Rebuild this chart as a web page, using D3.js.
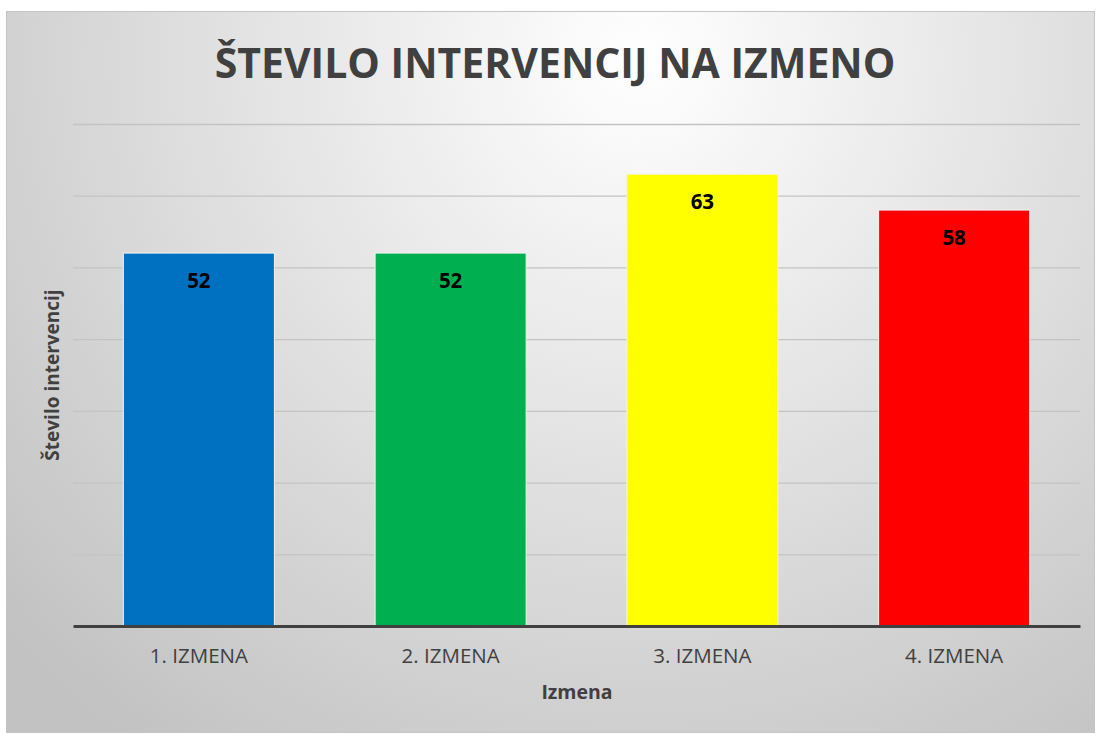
<!DOCTYPE html>
<html>
<head>
<meta charset="utf-8">
<script src="https://cdn.jsdelivr.net/npm/d3@7"></script>
<style>
  body { margin: 0; background: #fff; }
  text { font-family: 'Open Sans', 'Noto Sans', sans-serif; }
</style>
</head>
<body>
<div id="chart"></div>
<script>
// data
const categories = ['1. IZMENA', '2. IZMENA', '3. IZMENA', '4. IZMENA']
const values = [52, 52, 63, 58]
const barColors = ['#0070C0', '#00B050', '#FFFF00', '#FF0000']
const yTicks = [0, 10, 20, 30, 40, 50, 60, 70]

const W = 1098
const H = 735
const margin = { top: 124, left: 73, right: 18, bottom: 109 }
const width = W - margin.left - margin.right
const height = H - margin.top - margin.bottom

const root = d3
  .select('#chart')
  .append('svg')
  .attr('width', W)
  .attr('height', H)

const defs = root.append('defs')
const grad = defs
  .append('radialGradient')
  .attr('id', 'bg')
  .attr('gradientUnits', 'userSpaceOnUse')
  .attr('cx', 640)
  .attr('cy', 60)
  .attr('r', 850)
grad.append('stop').attr('offset', '0%').attr('stop-color', '#ffffff')
grad.append('stop').attr('offset', '100%').attr('stop-color', '#c2c2c2')

root
  .append('rect')
  .attr('x', 6.5)
  .attr('y', 11.5)
  .attr('width', 1088)
  .attr('height', 721)
  .attr('fill', 'url(#bg)')
  .attr('stroke', '#c4c4c4')
  .attr('stroke-width', 1)

const svg = root
  .append('g')
  .attr('transform', 'translate(' + margin.left + ',' + margin.top + ')')

const xPositionScale = d3
  .scaleBand()
  .domain(categories)
  .range([0, width])
  .paddingInner(0.4)
  .paddingOuter(0.2)

const yPositionScale = d3
  .scaleLinear()
  .domain([0, 70])
  .range([height, 0])

// gridlines
const yAxis = d3
  .axisLeft(yPositionScale)
  .tickValues(yTicks.slice(1))
  .tickSize(-width)
  .tickFormat('')

svg
  .append('g')
  .attr('class', 'axis y-axis')
  .call(yAxis)
svg.select('.y-axis .domain').remove()
svg.selectAll('.y-axis line').attr('stroke', '#c3c3c3').attr('stroke-width', 1.3)

// bars
svg
  .selectAll('.bar')
  .data(values)
  .enter()
  .append('rect')
  .attr('class', 'bar')
  .attr('x', (d, i) => xPositionScale(categories[i]))
  .attr('y', d => yPositionScale(d))
  .attr('width', xPositionScale.bandwidth())
  .attr('height', d => height - yPositionScale(d))
  .attr('fill', (d, i) => barColors[i])
  .attr('stroke', '#f2f2f2')
  .attr('stroke-width', 1)

svg
  .selectAll('.val')
  .data(values)
  .enter()
  .append('text')
  .attr('class', 'val')
  .attr('x', (d, i) => xPositionScale(categories[i]) + xPositionScale.bandwidth() / 2)
  .attr('y', d => yPositionScale(d) + 35)
  .attr('text-anchor', 'middle')
  .attr('font-size', 20.5)
  .attr('font-weight', 'bold')
  .attr('fill', '#000')
  .text(d => d)

// x axis
const xAxis = d3.axisBottom(xPositionScale).tickSize(0).tickPadding(22)

svg
  .append('g')
  .attr('class', 'axis x-axis')
  .attr('transform', 'translate(0,' + height + ')')
  .call(xAxis)

svg.select('.x-axis .domain').attr('stroke', '#404040').attr('stroke-width', 3)
svg
  .selectAll('.x-axis text')
  .attr('font-size', 20.5)
  .attr('font-family', "'Open Sans', sans-serif")
  .attr('fill', '#404040')

// titles
root
  .append('text')
  .attr('x', 555)
  .attr('y', 78)
  .attr('text-anchor', 'middle')
  .attr('font-size', 41)
  .attr('font-weight', 'bold')
  .attr('fill', '#404040')
  .text('ŠTEVILO INTERVENCIJ NA IZMENO')

root
  .append('text')
  .attr('x', 577)
  .attr('y', 699)
  .attr('text-anchor', 'middle')
  .attr('font-size', 19.5)
  .attr('font-weight', 'bold')
  .attr('fill', '#404040')
  .text('Izmena')

root
  .append('text')
  .attr('transform', 'translate(59,375) rotate(-90)')
  .attr('text-anchor', 'middle')
  .attr('font-size', 19)
  .attr('font-weight', 'bold')
  .attr('fill', '#404040')
  .text('Število intervencij')
</script>
</body>
</html>
